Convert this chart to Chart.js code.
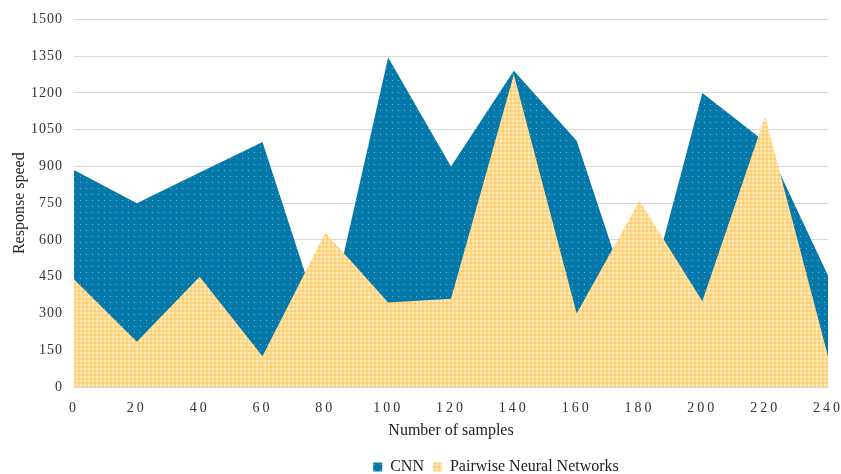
<!DOCTYPE html>
<html>
<head>
<meta charset="utf-8">
<script src="https://cdn.jsdelivr.net/npm/chart.js@4.4.1/dist/chart.umd.min.js"></script>
<style>
  html, body { margin: 0; padding: 0; background: #fff; }
  #wrap { width: 841px; height: 474px; }
</style>
</head>
<body>
<div id="wrap"><canvas id="myChartArea" width="841" height="474"></canvas></div>
<script>
// values
const samples = [0, 20, 40, 60, 80, 100, 120, 140, 160, 180, 200, 220, 240];
const cnn = [885, 750, 875, 1000, 210, 1345, 900, 1290, 1005, 230, 1200, 1000, 455];
const pairwise = [440, 185, 450, 125, 630, 345, 360, 1275, 300, 760, 350, 1105, 125];
const seriesNames = ['CNN', 'Pairwise Neural Networks'];

const serif = 'Liberation Serif, Times New Roman, serif';

// dotted blue fill
function makeBluePattern() {
    let c = document.createElement('canvas');
    c.width = 6; c.height = 6;
    let g = c.getContext('2d');
    g.fillStyle = 'rgb(4,120,168)';
    g.fillRect(0, 0, 6, 6);
    g.fillStyle = 'rgb(120,178,206)';
    g.fillRect(2, 2, 1, 1);
    return g.createPattern(c, 'repeat');
}

// checkered yellow fill
function makeYellowPattern() {
    let c = document.createElement('canvas');
    c.width = 4; c.height = 4;
    let g = c.getContext('2d');
    g.fillStyle = 'rgb(255,205,115)';
    g.fillRect(0, 0, 4, 4);
    g.fillStyle = 'rgb(255,234,188)';
    g.fillRect(0, 0, 2, 2);
    g.fillStyle = 'rgb(255,217,142)';
    g.fillRect(2, 0, 2, 2);
    g.fillRect(0, 2, 2, 2);
    return g.createPattern(c, 'repeat');
}

function toPoints(values) {
    let pts = [];
    for (let i in values) {
        pts.push({ x: samples[i], y: values[i] });
    }
    return pts;
}

// letter spaced tick labels, legend nudged to where the original sits
const tweaks = {
    id: 'tweaks',
    beforeDraw(chart) {
        let spacing = { x: '3px', y: '1px' };
        for (let id in spacing) {
            let s = chart.scales[id];
            if (s._spaced) continue;
            let orig = s.drawLabels;
            s.drawLabels = function (area) {
                this.ctx.save();
                this.ctx.letterSpacing = spacing[id];
                orig.call(this, area);
                this.ctx.restore();
            };
            s._spaced = true;
        }
        let lg = chart.legend;
        lg.left += 76; lg.right += 76;
        lg.top += 11; lg.bottom += 11;
    }
};

let canvas = document.getElementById('myChartArea');
let blue = makeBluePattern();
let yellow = makeYellowPattern();

let myChart = new Chart(canvas, {
    type: 'line',
    data: {
        datasets: [{
            label: seriesNames[0],
            data: toPoints(cnn),
            backgroundColor: blue,
            borderColor: 'rgb(4,120,168)',
            borderWidth: 0,
            pointRadius: 0,
            fill: 'origin',
            tension: 0,
            order: 1
        }, {
            label: seriesNames[1],
            data: toPoints(pairwise),
            backgroundColor: yellow,
            borderColor: 'rgb(255,214,135)',
            borderWidth: 0,
            pointRadius: 0,
            fill: 'origin',
            tension: 0,
            order: 0
        }]
    },
    options: {
        responsive: false,
        animation: false,
        layout: { padding: { left: 12, right: 13, top: 10, bottom: 0 } },
        plugins: {
            legend: {
                position: 'bottom',
                labels: {
                    font: { family: serif, size: 16 },
                    color: '#222',
                    boxWidth: 9,
                    boxHeight: 9,
                    padding: 9,
                    sort: (a, b) => a.datasetIndex - b.datasetIndex
                }
            },
            tooltip: { enabled: false }
        },
        scales: {
            x: {
                type: 'linear',
                min: 0,
                max: 240,
                afterFit: (s) => { s.paddingLeft = 0; s.paddingRight = 0; },
                ticks: {
                    stepSize: 20,
                    font: { family: serif, size: 14, lineHeight: 1 },
                    color: '#333',
                    padding: 14
                },
                grid: { display: false, drawTicks: false },
                border: { color: '#d9d9d9' },
                title: {
                    display: true,
                    text: 'Number of samples',
                    font: { family: serif, size: 16, lineHeight: 1 },
                    color: '#222',
                    padding: { top: -6, bottom: 0 }
                }
            },
            y: {
                min: 0,
                max: 1500,
                ticks: {
                    stepSize: 150,
                    font: { family: serif, size: 14 },
                    color: '#333',
                    padding: 11,
                    callback: (v) => String(v)
                },
                grid: { color: '#d9d9d9', drawTicks: false },
                border: { display: false },
                title: {
                    display: true,
                    text: 'Response speed',
                    font: { family: serif, size: 16, lineHeight: 1 },
                    color: '#222',
                    padding: { top: 0, bottom: -4 }
                }
            }
        }
    },
    plugins: [tweaks]
});
</script>
</body>
</html>
